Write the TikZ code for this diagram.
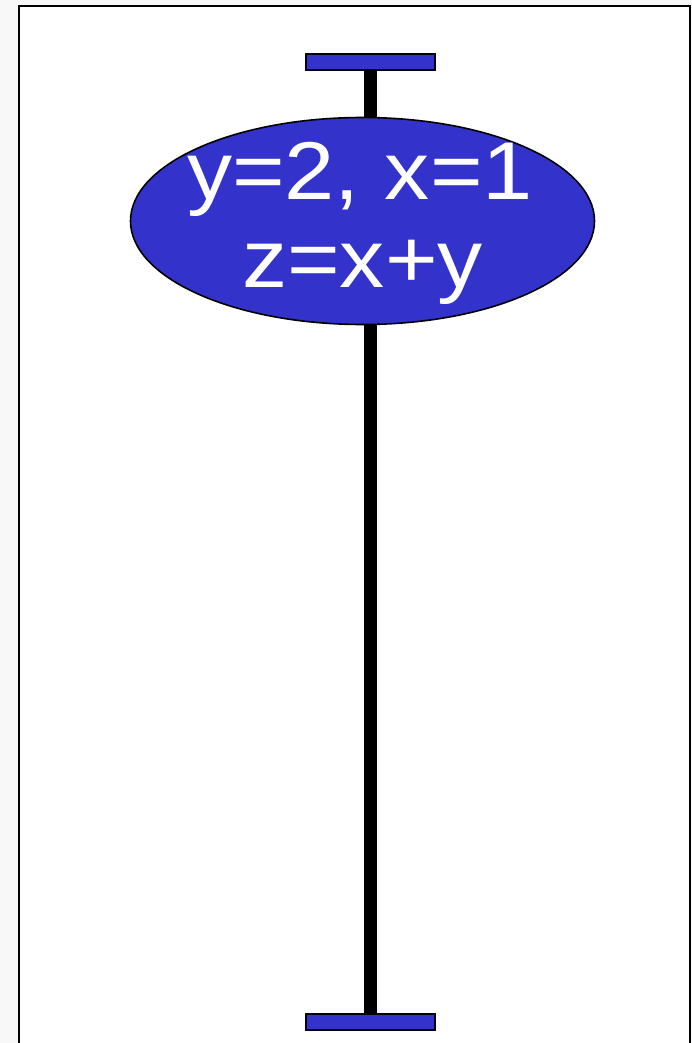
\documentclass[tikz,border=0pt]{standalone}
\usepackage{fontspec}
\setmainfont{Liberation Sans}
\newfontfamily\widesans[FakeStretch=1.1]{Liberation Sans}
\usetikzlibrary{shapes.geometric}
\definecolor{barblue}{HTML}{3333CC}
\definecolor{pagegray}{HTML}{F8F8F8}
\begin{document}
\begin{tikzpicture}[x=1pt,y=-1pt,
  barbox/.style={draw=black, line width=1.8pt, fill=barblue, minimum width=129pt, minimum height=16pt, inner sep=0pt, outer sep=0pt},
  blob/.style={ellipse, draw=black, line width=1.6pt, fill=barblue, minimum width=464pt, minimum height=207pt, inner sep=0pt, outer sep=0pt},
  stem/.style={line width=12.5pt, black},
  lbl/.style={text=white, anchor=base, inner sep=0pt, font=\widesans\fontsize{82}{87}\selectfont}]
\useasboundingbox (0,0) rectangle (692,1043);
\fill[pagegray] (0,0) rectangle (692,1043);
\fill[white] (18.5,6.5) rectangle (690,1045);
\draw[line width=2pt] (18.5,1046) -- (18.5,6.5) -- (690,6.5) -- (690,1046);
\node[barbox] (top) at (370.5,62) {};
\node[barbox] (bot) at (370.5,1022) {};
\node[blob] (ell) at (362.5,221) {};
\draw[stem] (top.south) -- (top.south |- ell.north);
\draw[stem] (bot.north |- ell.south) -- (bot.north);
\node[lbl] (l1) at (360,200) {y=2, x=1};
\node[lbl] (l2) at (362.5,287) {z=x+y};
\end{tikzpicture}
\end{document}
